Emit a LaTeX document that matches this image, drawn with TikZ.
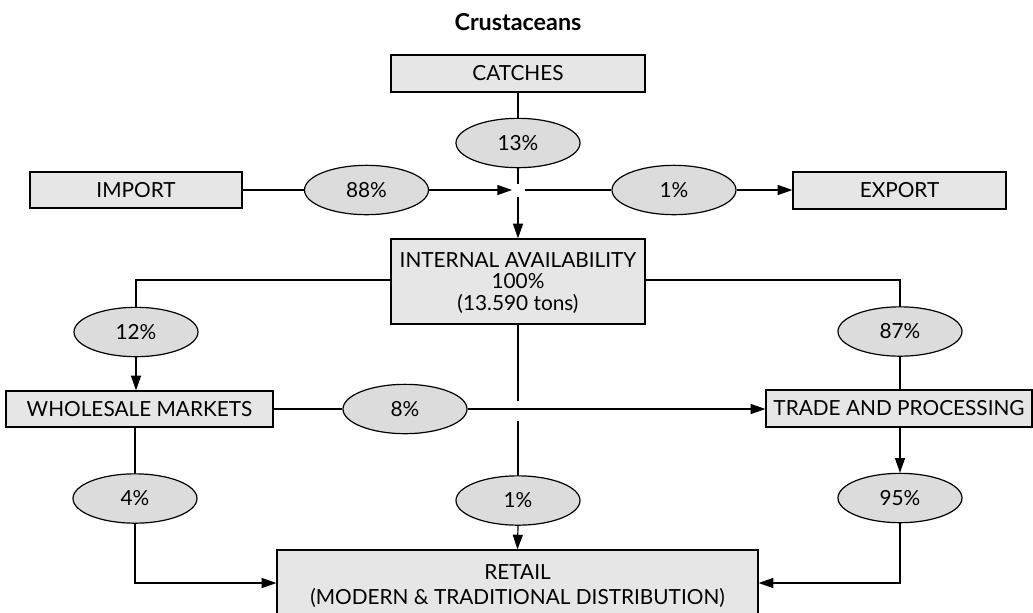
\documentclass[tikz,border=0pt]{standalone}
\usepackage{fontspec}
\setmainfont{Lato}
\usetikzlibrary{arrows.meta,shapes.geometric}
\definecolor{boxfill}{RGB}{230,230,230}
\definecolor{ellfill}{RGB}{220,220,220}
\begin{document}
\begin{tikzpicture}[x=0.75pt,y=-0.75pt,
  every node/.style={font=\fontsize{15.6}{16}\selectfont},
  flowbox/.style={draw, line width=0.9pt, fill=boxfill, inner sep=0pt, align=center},
  pct/.style={draw, ellipse, line width=0.9pt, fill=ellfill, inner sep=0pt, minimum width=93pt, minimum height=37pt},
  conn/.style={line width=0.9pt},
  arr/.style={line width=0.9pt, -{Triangle[length=11pt,width=7.5pt]}}]
\clip (0,0) rectangle (1033,612);
\node[font=\fontsize{17.5}{20}\selectfont\bfseries] (title) at (518,22) {Crustaceans};
% boxes
\node[flowbox, minimum width=190.5pt, minimum height=27.75pt] (catches) at (518,73.5) {CATCHES};
\node[flowbox, minimum width=159pt, minimum height=27pt] (import) at (136,190) {IMPORT};
\node[flowbox, minimum width=159.75pt, minimum height=27.75pt] (export) at (899.5,190.5) {EXPORT};
\node[flowbox, minimum width=190.5pt, minimum height=63.75pt] (inter) at (518,281.5) {};
\node[align=center] (intertext) at (518,283) {INTERNAL AVAILABILITY\\100\%\\(13.590 tons)};
\node[flowbox, minimum width=200.25pt, minimum height=27pt] (whole) at (139.5,409) {WHOLESALE MARKETS};
\node[flowbox, minimum width=199.5pt, minimum height=27.75pt] (trade) at (899,408.5) {TRADE AND PROCESSING};
\node[flowbox, minimum width=360.75pt, minimum height=49.5pt] (retail) at (517.5,583) {};
\node[align=center] (retailtext) at (517.5,586) {RETAIL\\[3pt](MODERN \& TRADITIONAL DISTRIBUTION)};
% ellipses
\node[pct] (e13) at (518,143) {13\%};
\node[pct] (e88) at (366.5,190) {88\%};
\node[pct] (e1a) at (674,190) {1\%};
\node[pct] (e12) at (136,332) {12\%};
\node[pct] (e87) at (900,331.5) {87\%};
\node[pct] (e8) at (405,409) {8\%};
\node[pct] (e4) at (135,498.5) {4\%};
\node[pct] (e1b) at (518,500.5) {1\%};
\node[pct] (e95) at (900,498) {95\%};
% junction points
\coordinate (jN) at (518,184);
\coordinate (jS) at (518,197);
\coordinate (jW) at (512,190);
\coordinate (jE) at (525,190);
\coordinate (gN) at (518,401);
\coordinate (gS) at (518,421);
% connectors
\draw[conn] (catches.south) -- (e13.north);
\draw[conn] (e13.south) -- (jN);
\draw[arr] (jS) -- (inter.north);
\draw[conn] (import.east) -- (e88.west);
\draw[arr] (e88.east) -- (jW);
\draw[conn] (jE) -- (e1a.west);
\draw[arr] (e1a.east) -- (e1a.east -| export.west);
\draw[conn] (inter.west |- 0,280) -| (e12.north);
\draw[arr] (e12.south) -- (e12.south |- whole.north);
\draw[conn] (inter.east |- 0,280) -| (e87.north);
\draw[conn] (e87.south) -- (e87.south |- trade.north);
\draw[arr] (e95.north |- trade.south) -- (e95.north);
\draw[arr] (e95.south) |- (retail.east);
\draw[conn] (e4.north |- whole.south) -- (e4.north);
\draw[arr] (e4.south) |- (retail.west);
\draw[conn] (whole.east) -- (e8.west);
\draw[arr] (e8.east) -- (e8.east -| trade.west);
\draw[conn] (inter.south) -- (gN);
\draw[conn] (gS) -- (e1b.north);
\draw[arr] (e1b.south) -- (retail.north);
\end{tikzpicture}
\end{document}
